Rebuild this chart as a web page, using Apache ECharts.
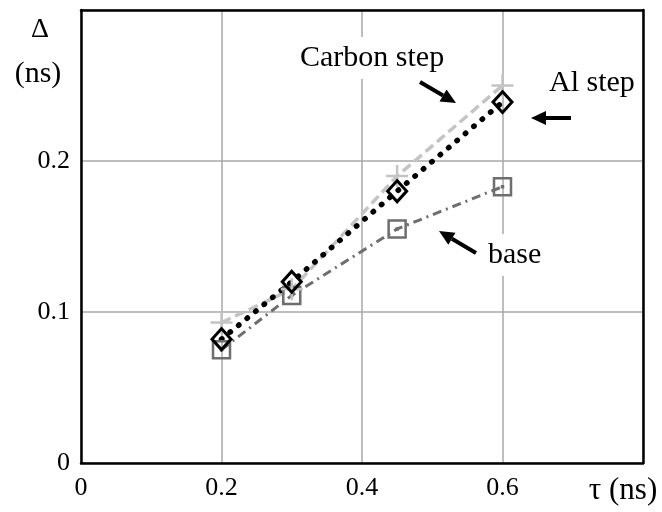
<!DOCTYPE html>
<html>
<head>
<meta charset="utf-8">
<script src="https://cdn.jsdelivr.net/npm/echarts@6/dist/echarts.min.js"></script>
<style>
  html, body { margin: 0; padding: 0; background: #fff; }
  #chart { width: 662px; height: 512px; }
</style>
</head>
<body>
<div id="chart"></div>
<script>
// tau (ns) values
const tau = [0.2, 0.3, 0.45, 0.6];
// delta (ns) for each curve
const carbonStep = [0.093, 0.115, 0.190, 0.250];
const alStep = [0.082, 0.120, 0.180, 0.239];
const base = [0.075, 0.111, 0.155, 0.183];

const serif = 'Liberation Serif, Times New Roman, serif';

function pairs(ys) {
    return tau.map((t, i) => [t, ys[i]]);
}

// arrow = shaft + head, pixel coords of the annotation
function arrow(x1, y1, x2, y2) {
    const a = Math.atan2(y2 - y1, x2 - x1);
    const len = 15, half = 7;
    const bx = x2 - len * Math.cos(a), by = y2 - len * Math.sin(a);
    const px = -Math.sin(a) * half, py = Math.cos(a) * half;
    return [
        { type: 'line', shape: { x1: x1, y1: y1, x2: bx, y2: by }, style: { stroke: '#000', lineWidth: 4 } },
        { type: 'polygon', shape: { points: [[x2, y2], [bx + px, by + py], [bx - px, by - py]] }, style: { fill: '#000' } }
    ];
}

function label(text, x, y) {
    return {
        type: 'text', x: x, y: y,
        style: {
            text: text, font: '30px ' + serif, fill: '#000',
            align: 'left', verticalAlign: 'middle',
            backgroundColor: '#fff', padding: [6, 3]
        },
        z: 10
    };
}

const tickLabel = (max) => ({
    fontFamily: serif, fontSize: 26, color: '#000',
    formatter: v => (Math.abs(v - max) < 1e-6 ? '' : String(Math.round(v * 10) / 10))
});
const frame = { show: true, onZero: false, lineStyle: { color: '#000', width: 2.5 } };

const chart = echarts.init(document.getElementById('chart'));
const option = {
    backgroundColor: '#fff',
    animation: false,
    grid: { left: 81, top: 10, right: 19, bottom: 49 },
    xAxis: [
        {
            type: 'value', min: 0, max: 0.8, interval: 0.2, position: 'bottom',
            axisLine: frame, axisTick: { show: false },
            splitLine: { lineStyle: { color: '#a8a8a8', width: 1.5 } },
            axisLabel: Object.assign({ margin: 12 }, tickLabel(0.8))
        },
        {
            type: 'value', min: 0, max: 0.8, interval: 0.2, position: 'top',
            axisLine: frame, axisTick: { show: false }, splitLine: { show: false }, axisLabel: { show: false }
        }
    ],
    yAxis: [
        {
            type: 'value', min: 0, max: 0.3, interval: 0.1, position: 'left',
            axisLine: frame, axisTick: { show: false },
            splitLine: { lineStyle: { color: '#a8a8a8', width: 1.5 } },
            axisLabel: Object.assign({ margin: 11 }, tickLabel(0.3))
        },
        {
            type: 'value', min: 0, max: 0.3, interval: 0.1, position: 'right',
            axisLine: frame, axisTick: { show: false }, splitLine: { show: false }, axisLabel: { show: false }
        }
    ],
    series: [
        {
            name: 'base', type: 'line', data: pairs(base),
            lineStyle: { color: '#6e6e6e', width: 3, type: [9, 5, 2, 5] },
            symbol: 'path://M-1,-1 L1,-1 L1,1 L-1,1 Z M-0.06,-0.06 L0.06,-0.06 L0.06,0.06 L-0.06,0.06 Z',
            symbolSize: 17,
            itemStyle: { color: 'rgba(255,255,255,0)', borderColor: '#6e6e6e', borderWidth: 2.5 }
        },
        {
            name: 'Carbon step', type: 'line', data: pairs(carbonStep),
            lineStyle: { color: '#c4c4c4', width: 3.5, type: [10, 5] },
            symbol: 'path://M0,-1 L0,1 M-1,0 L1,0',
            symbolSize: 22,
            itemStyle: { color: 'rgba(255,255,255,0)', borderColor: '#c4c4c4', borderWidth: 2.5 }
        },
        {
            name: 'Al step', type: 'line', data: pairs(alStep),
            lineStyle: { color: '#000', width: 5.5, type: [0.5, 10.5], cap: 'round' },
            symbol: 'diamond',
            symbolSize: [19, 21],
            itemStyle: { color: 'rgba(255,255,255,0)', borderColor: '#000', borderWidth: 3 }
        }
    ],
    graphic: [
        { type: 'text', x: 40, y: 30, style: { text: 'Δ', font: '28px ' + serif, fill: '#000', align: 'center', verticalAlign: 'middle' } },
        { type: 'text', x: 38, y: 74, style: { text: '(ns)', font: '30px ' + serif, fill: '#000', align: 'center', verticalAlign: 'middle' } },
        { type: 'text', x: 623, y: 491, style: { text: 'τ (ns)', font: '31px ' + serif, fill: '#000', align: 'center', verticalAlign: 'middle' } },
        label('Carbon step', 297, 58),
        label('Al step', 546, 83),
        label('base', 485, 255)
    ].concat(arrow(420, 82, 456, 103), arrow(571, 118, 531, 118), arrow(476, 253, 439, 231))
};
chart.setOption(option);
</script>
</body>
</html>
